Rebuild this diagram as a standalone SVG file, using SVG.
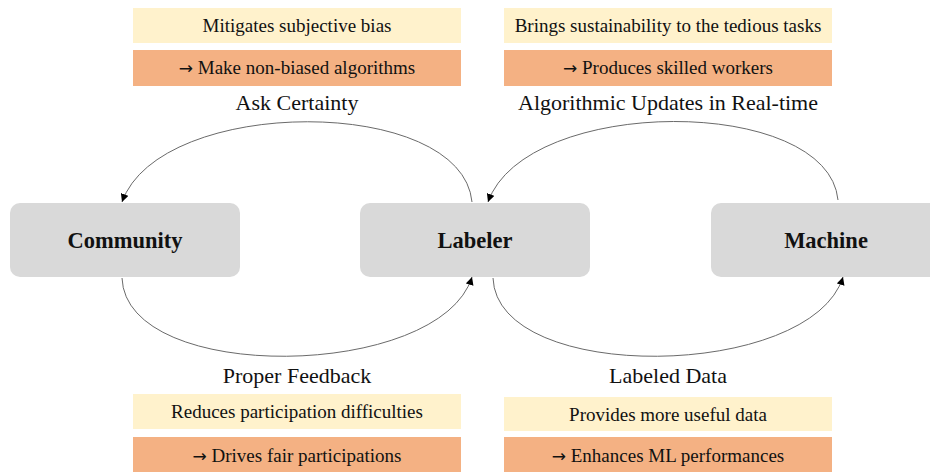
<svg xmlns="http://www.w3.org/2000/svg" width="930" height="472" viewBox="0 0 930 472">
<defs>
<marker id="arr" viewBox="0 0 10 10" refX="10" refY="5" markerWidth="8" markerHeight="8" markerUnits="userSpaceOnUse" orient="auto">
<path d="M0,0 L10,5 L0,10 Z" fill="#000"/>
</marker>
<style>
.node{fill:#D9D9D9}
.ntxt{font-family:"Liberation Serif","Times New Roman",serif;font-weight:bold;font-size:22.5px;fill:#111;text-anchor:middle}
.yel{fill:#FFF2CC}
.org{fill:#F4B183}
.btxt{font-family:"Liberation Serif","Times New Roman",serif;font-size:19px;fill:#111;text-anchor:middle}
.ar{font-family:"DejaVu Sans",sans-serif;font-size:17px}
.lbl{font-family:"Liberation Serif","Times New Roman",serif;font-size:22px;fill:#111;text-anchor:middle}
.edge{fill:none;stroke:#6a6a6a;stroke-width:1;marker-end:url(#arr)}
</style>
</defs>
<rect width="930" height="472" fill="#fff"/>
<g id="top-left-notes">
<rect class="yel" x="133" y="8" width="328" height="35"/>
<text class="btxt" x="297" y="32">Mitigates subjective bias</text>
<rect class="org" x="133" y="50" width="328" height="36"/>
<text class="btxt" x="297" y="74"><tspan class="ar">→</tspan> Make non-biased algorithms</text>
<text class="lbl" x="297" y="110">Ask Certainty</text>
</g>
<g id="top-right-notes">
<rect class="yel" x="504" y="8" width="328" height="35"/>
<text class="btxt" x="668" y="32">Brings sustainability to the tedious tasks</text>
<rect class="org" x="504" y="50" width="328" height="36"/>
<text class="btxt" x="668" y="74"><tspan class="ar">→</tspan> Produces skilled workers</text>
<text class="lbl" x="668" y="110">Algorithmic Updates in Real-time</text>
</g>
<g id="bottom-left-notes">
<text class="lbl" x="297" y="383">Proper Feedback</text>
<rect class="yel" x="133" y="394" width="328" height="35"/>
<text class="btxt" x="297" y="418">Reduces participation difficulties</text>
<rect class="org" x="133" y="437" width="328" height="40"/>
<text class="btxt" x="297" y="462"><tspan class="ar">→</tspan> Drives fair participations</text>
</g>
<g id="bottom-right-notes">
<text class="lbl" x="668" y="383">Labeled Data</text>
<rect class="yel" x="504" y="397" width="328" height="34"/>
<text class="btxt" x="668" y="421">Provides more useful data</text>
<rect class="org" x="504" y="437" width="328" height="40"/>
<text class="btxt" x="668" y="462"><tspan class="ar">→</tspan> Enhances ML performances</text>
</g>
<g id="community">
<rect class="node" x="10" y="203" width="230" height="74" rx="10"/>
<text class="ntxt" x="125" y="248">Community</text>
</g>
<g id="labeler">
<rect class="node" x="360" y="203" width="230" height="74" rx="10"/>
<text class="ntxt" x="475" y="248">Labeler</text>
</g>
<g id="machine">
<rect class="node" x="711" y="203" width="240" height="74" rx="10"/>
<text class="ntxt" x="826" y="248">Machine</text>
</g>
<g id="connectors">
<path class="edge" d="M472,202 C462,95 160,95 122,202"/>
<path class="edge" d="M838,200 C828,95 526,95 488,202"/>
<path class="edge" d="M122,278 C126,385 440,380 472,277"/>
<path class="edge" d="M493,278 C497,385 811,380 843,277"/>
</g>
</svg>
